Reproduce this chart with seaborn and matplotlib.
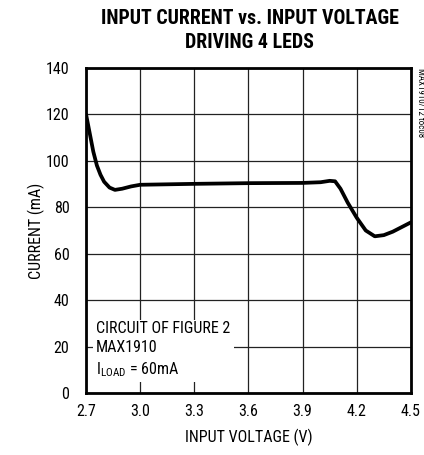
import pandas as pd
import matplotlib
matplotlib.use("Agg")
import matplotlib.pyplot as plt
import seaborn as sns
from matplotlib import font_manager

# values
voltage = [2.70, 2.72, 2.74, 2.76, 2.78, 2.80, 2.83, 2.86, 2.90, 2.95, 3.00,
           3.30, 3.60, 3.90, 4.00, 4.05, 4.08, 4.11, 4.15, 4.20, 4.25, 4.30,
           4.35, 4.40, 4.45, 4.50]
current = [120, 112, 104, 98, 94, 91, 88.5, 87.5, 88, 89, 89.7,
           90.1, 90.4, 90.5, 90.8, 91.4, 91.2, 88, 82, 75.5, 70, 67.5,
           68, 69.5, 71.5, 73.5]

x_ticks = [2.7, 3.0, 3.3, 3.6, 3.9, 4.2, 4.5]
y_ticks = [0, 20, 40, 60, 80, 100, 120, 140]

df = pd.DataFrame({"voltage": voltage, "current": current})

# pick a condensed face if one is installed
installed = {f.name for f in font_manager.fontManager.ttflist}
def pick(prefs):
    for p in prefs:
        if p in installed:
            return p
    return "Liberation Sans"

body_font = pick(["Roboto Condensed", "Archivo Narrow", "PT Sans Narrow",
                  "Barlow Condensed", "Liberation Sans Narrow", "Roboto"])
title_font = pick(["Roboto Condensed", "Archivo Narrow", "Barlow Condensed",
                   "Oswald", "Roboto"])

sns.set_style("white")
plt.rcParams['font.family'] = [body_font, 'DejaVu Sans']
plt.rcParams['text.color'] = 'black'
plt.rcParams['axes.labelcolor'] = 'black'
plt.rcParams['xtick.color'] = 'black'
plt.rcParams['ytick.color'] = 'black'

fig = plt.figure(figsize=(4.24, 4.55), dpi=100)
ax = fig.add_axes([0.203, 0.1363, 0.766, 0.7142])

# grid drawn by hand so the note box can hide it but not the ticks
for v in x_ticks:
    ax.axvline(v, color="#222222", linewidth=0.9, zorder=1)
for c in y_ticks:
    ax.axhline(c, color="#222222", linewidth=0.9, zorder=1)

sns.lineplot(data=df, x="voltage", y="current", ax=ax, color="black",
             linewidth=2.7, zorder=4)

ax.set_xlim(2.7, 4.5)
ax.set_ylim(0, 140)
ax.set_xticks(x_ticks)
ax.set_yticks(y_ticks)
ax.set_xticklabels([f"{v:.1f}" for v in x_ticks])
ax.set_axisbelow(False)
ax.tick_params(labelsize=11.5, direction="in", length=5, width=0.9)
ax.tick_params(axis="x", pad=8)
ax.tick_params(axis="y", pad=12)
for s in ax.spines.values():
    s.set_linewidth(2.0)
    s.set_color("black")
    s.set_zorder(5)

ax.set_xlabel("INPUT VOLTAGE (V)", fontsize=11.5, va="center")
ax.set_ylabel("CURRENT (mA)", fontsize=11.5, va="center")
ax.xaxis.set_label_coords(0.5, -0.138)
ax.yaxis.set_label_coords(-0.154, 0.5)

fig.text(0.589, 1 - 18 / 455, "INPUT CURRENT vs. INPUT VOLTAGE", ha="center",
         va="center", fontsize=14.3, fontweight="black", family=title_font)
fig.text(0.589, 1 - 42 / 455, "DRIVING 4 LEDS", ha="center", va="center",
         fontsize=14.3, fontweight="black", family=title_font)

ax.text(0.031, 0.22, "CIRCUIT OF FIGURE 2\nMAX1910\n$\\mathregular{I_{LOAD}}$ = 60mA",
        transform=ax.transAxes, fontsize=11.5, va="top", ha="left",
        linespacing=1.32, zorder=2,
        bbox=dict(facecolor="white", edgecolor="none", pad=2.5))

fig.text(420 / 424, 1 - 68 / 455, "MAX1910/12 toc08", rotation=270,
         ha="center", va="top", fontsize=6.5)

fig.savefig("out.png", dpi=100)
